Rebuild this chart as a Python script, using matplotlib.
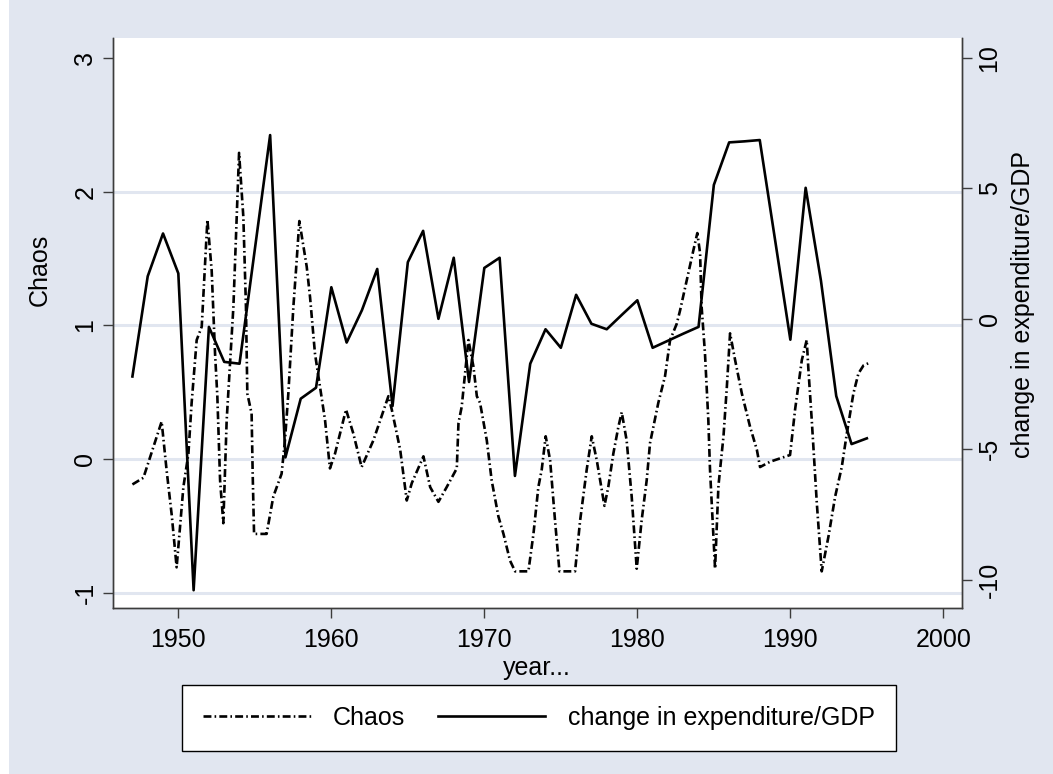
import matplotlib
matplotlib.use('Agg')
import matplotlib.pyplot as plt
from matplotlib.patches import Rectangle

plt.rcParams['font.family'] = ['Liberation Sans', 'DejaVu Sans']
plt.rcParams['axes.unicode_minus'] = False

# change in expenditure/GDP, one value per year (right axis)
exp_years = list(range(1947, 1996))
exp_change = [-2.21, 1.63, 3.27, 1.74, -10.4, -0.31, -1.65, -1.72, 2.66, 7.04,
              -5.31, -3.06, -2.64, 1.21, -0.91, 0.33, 1.91, -3.34, 2.17, 3.37,
              0.0, 2.34, -2.42, 1.95, 2.34, -6.02, -1.72, -0.40, -1.11, 0.92,
              -0.19, -0.40, 0.16, 0.71, -1.11, -0.84, -0.57, -0.31, 5.13, 6.76,
              6.80, 6.85, 3.03, -0.80, 5.02, 1.46, -2.96, -4.80, -4.58]

# Chaos index (left axis)
chaos_years = [1947.0, 1947.72, 1948.91, 1949.24, 1949.57, 1949.89, 1950.33, 1950.66,
               1950.87, 1951.2, 1951.53, 1951.9, 1952.18, 1952.4, 1952.55, 1952.73,
               1952.94, 1953.16, 1953.6, 1953.97, 1954.25, 1954.42, 1954.51, 1954.79,
               1954.86, 1954.95, 1955.77, 1956.21, 1956.75, 1956.97, 1957.19, 1957.52,
               1957.69, 1957.91, 1958.39, 1958.61, 1958.93, 1959.26, 1959.59, 1959.91,
               1960.24, 1960.96, 1961.44, 1961.98, 1962.75, 1963.73, 1963.95, 1964.5,
               1964.93, 1965.26, 1966.02, 1966.46, 1967.0, 1967.54, 1968.2, 1968.31,
               1968.52, 1968.96, 1969.29, 1969.51, 1969.72, 1970.16, 1970.48, 1970.92,
               1971.25, 1971.68, 1972.01, 1972.88, 1973.21, 1973.53, 1973.75, 1974.01,
               1974.3, 1974.62, 1974.91, 1975.93, 1976.26, 1976.69, 1977.02, 1977.35,
               1977.85, 1978.1, 1978.43, 1978.76, 1978.98, 1979.3, 1979.63, 1979.96,
               1980.28, 1980.61, 1980.83, 1981.37, 1981.81, 1982.14, 1982.57, 1982.79,
               1983.33, 1983.66, 1983.92, 1984.1, 1984.2, 1984.42, 1984.64, 1984.75,
               1985.08, 1985.3, 1985.63, 1985.85, 1986.06, 1986.39, 1986.83, 1987.37,
               1987.81, 1988.02, 1988.68, 1989.98, 1990.31, 1990.75, 1991.07, 1991.18,
               1991.4, 1991.73, 1992.05, 1992.49, 1992.93, 1993.36, 1993.69, 1994.12,
               1994.45, 1994.78, 1995.17]
chaos = [-0.19, -0.14, 0.28, -0.09, -0.42, -0.81, -0.21, 0.04,
         0.42, 0.89, 0.99, 1.79, 1.41, 0.79, 0.47, -0.16,
         -0.48, 0.29, 1.14, 2.29, 1.81, 1.14, 0.49, 0.34,
         -0.11, -0.56, -0.56, -0.28, -0.11, 0.14, 0.49, 1.14,
         1.41, 1.78, 1.44, 1.21, 0.79, 0.54, 0.29, -0.07,
         0.04, 0.37, 0.19, -0.06, 0.14, 0.47, 0.37, 0.07,
         -0.31, -0.18, 0.02, -0.21, -0.32, -0.21, -0.07, 0.27,
         0.39, 0.89, 0.69, 0.47, 0.42, 0.14, -0.16, -0.43,
         -0.56, -0.76, -0.84, -0.84, -0.56, -0.21, -0.08, 0.17,
         -0.01, -0.46, -0.84, -0.84, -0.46, -0.08, 0.17, -0.01,
         -0.35, -0.21, 0.04, 0.24, 0.35, 0.14, -0.28, -0.82,
         -0.46, -0.16, 0.12, 0.42, 0.62, 0.89, 1.01, 1.11,
         1.39, 1.56, 1.69, 1.54, 1.14, 0.79, 0.29, -0.08,
         -0.82, -0.2, 0.17, 0.54, 0.94, 0.74, 0.49, 0.24,
         0.07, -0.06, -0.02, 0.03, 0.37, 0.74, 0.89, 0.67,
         0.29, -0.33, -0.84, -0.58, -0.28, -0.06, 0.19, 0.49,
         0.64, 0.70, 0.72]

x_ticks = [1950, 1960, 1970, 1980, 1990, 2000]
left_ticks = [-1, 0, 1, 2, 3]
right_ticks = [-10, -5, 0, 5, 10]

bg = '#e1e6f0'
axis_col = '#3c3c3c'
fs = 18

fig = plt.figure(figsize=(10.53, 7.74), dpi=100, facecolor=bg)
# thin white strip on the left edge, as in the exported graph
fig.patches.append(Rectangle((0, 0), 9 / 1053, 1, transform=fig.transFigure,
                             facecolor='white', edgecolor='none', zorder=-1))

ax = fig.add_axes([0.1073, 0.2145, 0.8063, 0.7364])
ax.set_facecolor('white')
ax2 = ax.twinx()

for g in [-1, 0, 1, 2]:
    ax.axhline(g, color=bg, lw=2.2, zorder=0)

l1, = ax.plot(chaos_years, chaos, color='black', lw=1.9,
              linestyle=(0, (3.0, 1.2, 0.6, 1.2)), label='Chaos')
l2, = ax2.plot(exp_years, exp_change, color='black', lw=1.9,
               label='change in expenditure/GDP')

ax.set_xlim(1945.73, 2001.22)
ax.set_ylim(-1.114, 3.149)
ax2.set_ylim(-11.08, 10.76)
ax.set_xticks(x_ticks)
ax.set_yticks(left_ticks)
ax2.set_yticks(right_ticks)

for a in (ax, ax2):
    a.spines['top'].set_visible(False)
    for s in ('left', 'right', 'bottom'):
        a.spines[s].set_color(axis_col)
        a.spines[s].set_linewidth(1.0)
    a.tick_params(direction='out', length=7.2, width=1.0, color=axis_col,
                  labelsize=fs, pad=4)
ax.tick_params(axis='x', pad=7)
ax.tick_params(axis='y', labelrotation=90)
ax2.tick_params(axis='y', labelrotation=90)
for lab in ax.get_yticklabels() + ax2.get_yticklabels():
    lab.set_va('center')

fig.text(40 / 1053, 1 - 270 / 774, 'Chaos', rotation=90, ha='center', va='center',
         fontsize=fs)
fig.text(1023 / 1053, 1 - 305 / 774, 'change in expenditure/GDP', rotation=90,
         ha='center', va='center', fontsize=fs)
fig.text(537 / 1053, 1 - 668 / 774, 'year...', ha='center', va='center', fontsize=fs)

leg = fig.legend([l1, l2], ['Chaos', 'change in expenditure/GDP'], loc='center',
                 bbox_to_anchor=(539 / 1053, 1 - 718 / 774), ncol=2, fontsize=fs,
                 frameon=True, fancybox=False, edgecolor='black', framealpha=1,
                 handlelength=4.3, columnspacing=1.3, handletextpad=0.9,
                 borderpad=0.85, borderaxespad=0)
leg.get_frame().set_linewidth(1.0)

fig.savefig('out.png', dpi=100, facecolor=bg)
